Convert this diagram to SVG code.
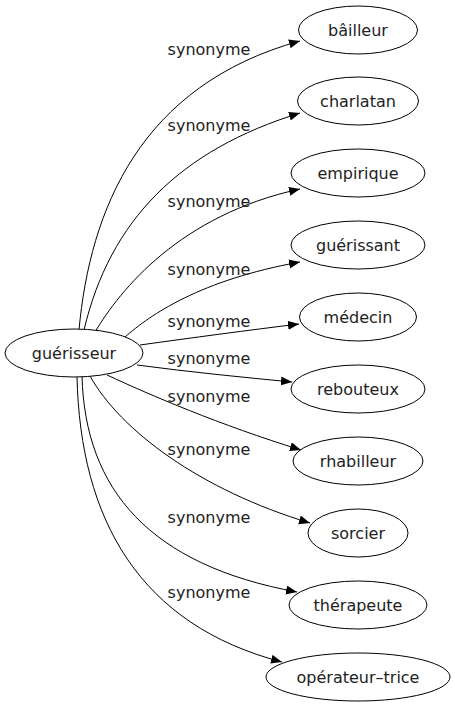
<svg xmlns="http://www.w3.org/2000/svg" width="455" height="707" viewBox="0 0 455 707">
<defs>
<marker id="arr" markerUnits="userSpaceOnUse" markerWidth="12" markerHeight="10" refX="11" refY="4.5" orient="auto">
<path d="M0,0 L11,4.5 L0,9 Z" fill="#000"/>
</marker>
<style>
.n ellipse{fill:#fff;stroke:#000;stroke-width:1}
.n text{font-family:"DejaVu Sans",sans-serif;font-size:16px;fill:#222;text-anchor:middle}
.e path{fill:none;stroke:#000;stroke-width:1;marker-end:url(#arr)}
.e text{font-family:"DejaVu Sans",sans-serif;font-size:16px;fill:#222;text-anchor:middle}
</style>
</defs>
<rect width="455" height="707" fill="#fff"/>
<g id="edges" class="e">
<path d="M79,330 C90,210 140,85 300,41"/>
<path d="M84,330 C110,220 180,150 300,113"/>
<path d="M95,332 C120,290 180,215 300,189"/>
<path d="M125,337 C150,315 200,280 300,262"/>
<path d="M140,345 C190,338 250,330 299,324"/>
<path d="M137,365 C190,372 240,377 292,382"/>
<path d="M107,375 C150,395 220,425 301,450"/>
<path d="M90,376 C120,430 200,490 310,523"/>
<path d="M82,376 C85,490 150,565 297,592"/>
<path d="M77,376 C80,520 140,625 282,662"/>
<text x="209" y="55">synonyme</text>
<text x="209" y="131">synonyme</text>
<text x="209" y="207">synonyme</text>
<text x="209" y="275">synonyme</text>
<text x="209" y="327">synonyme</text>
<text x="209" y="364">synonyme</text>
<text x="209" y="402">synonyme</text>
<text x="209" y="455">synonyme</text>
<text x="209" y="523">synonyme</text>
<text x="209" y="598">synonyme</text>
</g>
<g id="guerisseur" class="n"><ellipse cx="74" cy="353" rx="69" ry="24"/><text x="74" y="358.5">guérisseur</text></g>
<g id="bailleur" class="n"><ellipse cx="358" cy="30" rx="59.5" ry="24"/><text x="358" y="35.5">bâilleur</text></g>
<g id="charlatan" class="n"><ellipse cx="358" cy="101" rx="60.5" ry="24"/><text x="358" y="106.5">charlatan</text></g>
<g id="empirique" class="n"><ellipse cx="358" cy="173" rx="67" ry="24"/><text x="358" y="178.5">empirique</text></g>
<g id="guerissant" class="n"><ellipse cx="358" cy="245" rx="67" ry="24"/><text x="358" y="250.5">guérissant</text></g>
<g id="medecin" class="n"><ellipse cx="358" cy="317" rx="58.5" ry="24"/><text x="358" y="322.5">médecin</text></g>
<g id="rebouteux" class="n"><ellipse cx="358" cy="389" rx="67" ry="24"/><text x="358" y="394.5">rebouteux</text></g>
<g id="rhabilleur" class="n"><ellipse cx="358" cy="461" rx="65" ry="24"/><text x="358" y="466.5">rhabilleur</text></g>
<g id="sorcier" class="n"><ellipse cx="358" cy="533" rx="50" ry="24"/><text x="358" y="538.5">sorcier</text></g>
<g id="therapeute" class="n"><ellipse cx="358" cy="605" rx="69" ry="24"/><text x="358" y="610.5">thérapeute</text></g>
<g id="operateur-trice" class="n"><ellipse cx="358" cy="677" rx="92" ry="24"/><text x="358" y="682.5">opérateur–trice</text></g>
</svg>
